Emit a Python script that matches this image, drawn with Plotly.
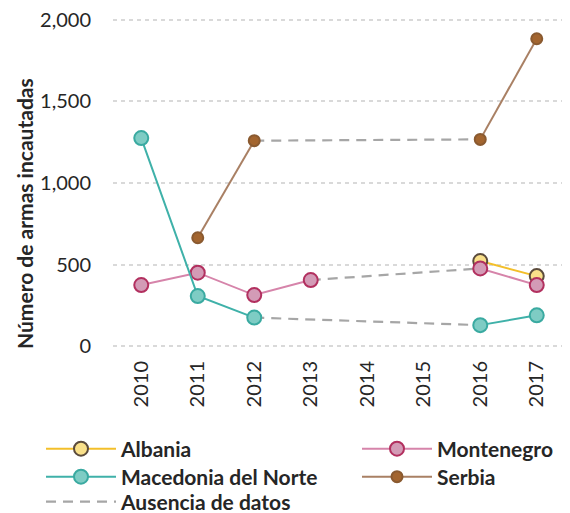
import plotly.graph_objects as go

years = ["2010", "2011", "2012", "2013", "2014", "2015", "2016", "2017"]
albania = [None, None, None, None, None, None, 522, 430]
macedonia = [1275, 308, 176, None, None, None, 130, 190]
montenegro = [375, 451, 314, 406, None, None, 477, 375]
serbia = [None, 665, 1259, None, None, None, 1267, 1883]
y_ticks = [0, 500, 1000, 1500, 2000]
y_labels = ["0", "500", "1,000", "1,500", "2,000"]
y_title = "Número de armas incautadas"
gap_name = "Ausencia de datos"

FONT = "Lato"
DARK = "#262626"

# figure is drawn 8px in from the window edge (page body margin)
OFF = 8
L, R, T, B = 105, 5, 10, 165
W, H = 570 - OFF, 513 - OFF
PW, PH = W - L - R, H - T - B


def px_x(x):
    return (x - OFF - L) / PW


def px_y(y):
    return 1 - (y - OFF - T) / PH


# name, values, line colour, marker fill, marker outline, marker size, legend id
series = [
    ("Albania", albania, "#F3BF2A", "#F9E08A", "#5B4B3C", 14, "legend"),
    ("Montenegro", montenegro, "#D684AA", "#D39BB6", "#B2305F", 14, "legend2"),
    ("Macedonia del Norte", macedonia, "#3FB1A9", "#7ECCC4", "#3AAAA1", 14, "legend3"),
    ("Serbia", serbia, "#A98064", "#A3652F", "#8A5A30", 11, "legend4"),
]

fig = go.Figure()

# dashed segments bridging missing years
gx, gy = [], []
for _, vals, *_ in series:
    known = [i for i, v in enumerate(vals) if v is not None]
    for a, b in zip(known, known[1:]):
        if b - a > 1:
            gx += [years[a], years[b], None]
            gy += [vals[a], vals[b], None]

fig.add_trace(go.Scatter(
    x=gx, y=gy, mode="lines", name=gap_name, legend="legend5",
    line=dict(color="#A6A6A6", width=2.2, dash="10px,7px"),
    hoverinfo="skip", connectgaps=False,
))

for name, vals, lc, mf, ml, ms, lg in series:
    fig.add_trace(go.Scatter(
        x=years, y=vals, mode="lines+markers", name=name, legend=lg,
        line=dict(color=lc, width=2),
        marker=dict(size=ms, color=mf, line=dict(color=ml, width=2)),
        connectgaps=False,
    ))

legend_common = dict(
    orientation="v", xref="paper", yref="paper", xanchor="left", yanchor="middle",
    font=dict(family=FONT, size=21, color=DARK, weight="bold"),
    tracegroupgap=0, itemwidth=70, bgcolor="rgba(0,0,0,0)",
)
col1, col2 = px_x(46 - 5), px_x(362 - 5)
rows = [px_y(449), px_y(477), px_y(502)]

fig.update_layout(
    width=W, height=H,
    margin=dict(l=L, r=R, t=T, b=B, autoexpand=False),
    plot_bgcolor="white", paper_bgcolor="white",
    font=dict(family=FONT, size=20, color=DARK),
    showlegend=True,
    legend=dict(x=col1, y=rows[0], **legend_common),
    legend2=dict(x=col2, y=rows[0], **legend_common),
    legend3=dict(x=col1, y=rows[1], **legend_common),
    legend4=dict(x=col2, y=rows[1], **legend_common),
    legend5=dict(x=col1, y=rows[2], **legend_common),
    xaxis=dict(
        type="category", categoryorder="array", categoryarray=years,
        range=[-0.5, 7.5], tickangle=-90, showgrid=False, showline=False,
        zeroline=False, ticks="", ticklabelstandoff=8,
        tickfont=dict(family=FONT, size=20, color=DARK),
    ),
    yaxis=dict(
        range=[-10, 2010], tickvals=y_ticks, ticktext=y_labels,
        showgrid=True, gridcolor="#D9D9D9", griddash="4px,4px", gridwidth=1.5,
        zeroline=False, showline=False, ticks="", ticklabelstandoff=21,
        ticklabeloverflow="allow",
        tickfont=dict(family=FONT, size=20, color=DARK),
    ),
    annotations=[dict(
        text=y_title, textangle=-90, xref="paper", yref="paper",
        x=px_x(24), y=px_y(214), xanchor="center", yanchor="middle",
        showarrow=False, font=dict(family=FONT, size=21, color=DARK, weight="bold"),
    )],
)

fig.write_html("out.html")
